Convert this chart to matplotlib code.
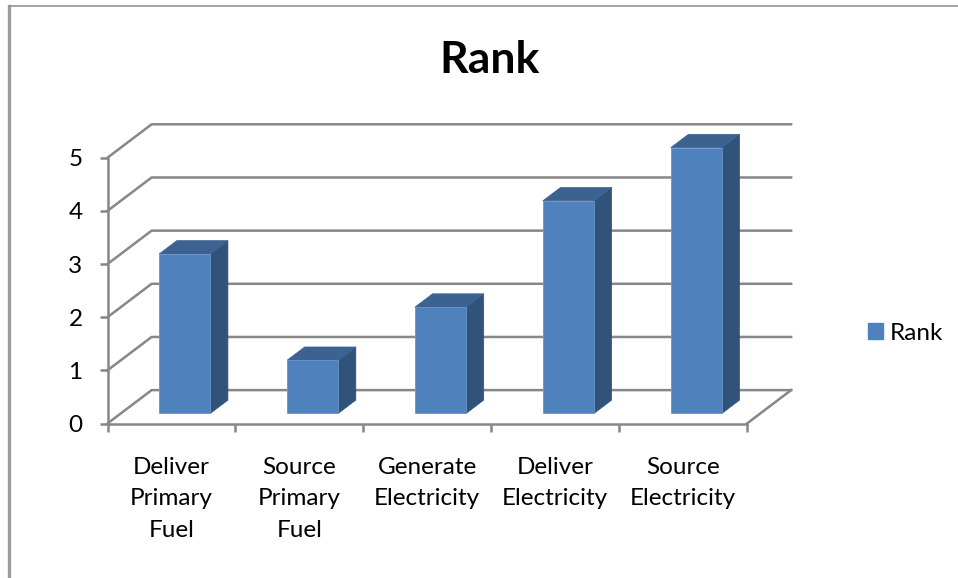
import matplotlib
matplotlib.use('Agg')
import matplotlib.pyplot as plt
from matplotlib.patches import Patch, Polygon
from matplotlib.lines import Line2D

categories = ['Deliver\nPrimary\nFuel', 'Source\nPrimary\nFuel', 'Generate\nElectricity',
              'Deliver\nElectricity', 'Source\nElectricity']
rank = [3, 1, 2, 4, 5]
y_ticks = [0, 1, 2, 3, 4, 5]

WIDTH, HEIGHT = 958, 578
GRAY = '#878787'
FRONT = '#4F81BD'
SIDE = '#325379'
TOP = '#3C6291'
LINE_W = 1.8
FONT_SIZE = 17.5

# how far the back wall sits from the front plane, in data units
DEPTH_X = 0.345
DEPTH_Y = 0.628


def project(x, y, d):
    """Shift a point on the front plane back by depth d (0 to 1)."""
    return (x + d * DEPTH_X, y + d * DEPTH_Y)


def draw_walls(ax):
    for v in y_ticks:
        pts = [project(0, v, 0), project(0, v, 1), project(5, v, 1)]
        ax.add_line(Line2D(*zip(*pts), color=GRAY, lw=LINE_W, clip_on=False, zorder=1))
    pts = [project(5, 0, 0), project(5, 0, 1)]
    ax.add_line(Line2D(*zip(*pts), color=GRAY, lw=LINE_W, clip_on=False, zorder=1))


def draw_bar(ax, i, value, width=0.4, d0=0.3, d1=0.7):
    x0 = i + 0.5 - width / 2
    x1 = x0 + width
    front = [project(x0, 0, d0), project(x1, 0, d0), project(x1, value, d0), project(x0, value, d0)]
    side = [project(x1, 0, d0), project(x1, 0, d1), project(x1, value, d1), project(x1, value, d0)]
    top = [project(x0, value, d0), project(x1, value, d0), project(x1, value, d1), project(x0, value, d1)]
    ax.add_patch(Polygon(side, facecolor=SIDE, edgecolor=SIDE, lw=0.5, clip_on=False, zorder=3))
    ax.add_patch(Polygon(top, facecolor=TOP, edgecolor=TOP, lw=0.5, clip_on=False, zorder=3))
    ax.add_patch(Polygon(front, facecolor=FRONT, edgecolor='#6A94C6', lw=0.6, clip_on=False, zorder=4))


def main():
    plt.rcParams['font.family'] = ['Lato', 'DejaVu Sans']
    fig = plt.figure(figsize=(WIDTH / 100, HEIGHT / 100), dpi=100, facecolor='white')

    # axes box is the front plane of the 3D-looking chart
    left, right, top, bottom = 107.5, 747, 157.7, 423.5
    ax = fig.add_axes([left / WIDTH, 1 - bottom / HEIGHT, (right - left) / WIDTH, (bottom - top) / HEIGHT])
    ax.set_xlim(0, 5)
    ax.set_ylim(0, 5)
    ax.patch.set_visible(False)

    for name in ['top', 'right']:
        ax.spines[name].set_visible(False)
    for name in ['left', 'bottom']:
        ax.spines[name].set_color(GRAY)
        ax.spines[name].set_linewidth(LINE_W)

    ax.set_yticks(y_ticks)
    ax.tick_params(axis='y', length=6, width=LINE_W, color=GRAY, labelsize=FONT_SIZE, pad=12, labelcolor='black')
    ax.set_xticks(range(6))
    ax.set_xticklabels([])
    ax.tick_params(axis='x', which='major', length=6, width=LINE_W, color=GRAY)
    ax.set_xticks([i + 0.5 for i in range(5)], minor=True)
    ax.set_xticklabels(categories, minor=True, fontsize=FONT_SIZE, linespacing=1.61)
    ax.tick_params(axis='x', which='minor', length=0, pad=24)

    draw_walls(ax)
    for i, value in enumerate(rank):
        draw_bar(ax, i, value)

    fig.text(490 / WIDTH, 1 - 60 / HEIGHT, 'Rank', fontsize=32, fontweight='bold',
             ha='center', va='center', color='black')

    handle = Patch(facecolor=FRONT, edgecolor=FRONT, label='Rank')
    fig.legend(handles=[handle], loc='center left', bbox_to_anchor=(868 / WIDTH, 1 - 333 / HEIGHT),
               frameon=False, fontsize=FONT_SIZE, handlelength=0.62, handleheight=0.62, handletextpad=0.29,
               borderpad=0, borderaxespad=0)

    # outer chart frame, only top and left show
    fig.add_artist(Line2D([9 / WIDTH, 9 / WIDTH], [0, 1 - 5.5 / HEIGHT], color='#9C9C9C', lw=2.4))
    fig.add_artist(Line2D([9 / WIDTH, 1], [1 - 5.5 / HEIGHT] * 2, color='#969696', lw=1.2))

    fig.savefig('out.png', dpi=100)
    plt.close(fig)


if __name__ == '__main__':
    main()
